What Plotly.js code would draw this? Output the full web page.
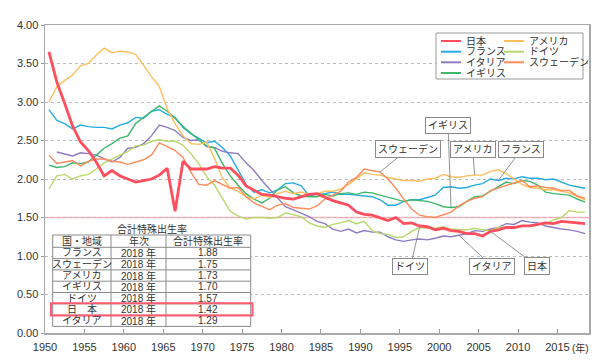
<!DOCTYPE html>
<html><head><meta charset="utf-8">
<script src="https://cdn.plot.ly/plotly-3.0.1.min.js"></script>
<style>html,body{margin:0;padding:0;background:#fff}#chart{width:600px;height:360px}</style>
</head><body><div id="chart"></div>
<script>
const startYear = 1950;
const japan = [3.65,3.26,2.98,2.69,2.48,2.37,2.22,2.04,2.11,2.04,2.00,1.96,1.98,2.00,2.05,2.14,1.58,2.23,2.13,2.13,2.13,2.16,2.14,2.14,2.05,1.91,1.85,1.80,1.79,1.77,1.75,1.74,1.77,1.80,1.81,1.76,1.72,1.69,1.66,1.57,1.54,1.53,1.50,1.46,1.50,1.42,1.43,1.39,1.38,1.34,1.36,1.33,1.32,1.29,1.29,1.26,1.32,1.34,1.37,1.37,1.39,1.39,1.41,1.43,1.42,1.45,1.44,1.43,1.42];
const france = [2.90,2.76,2.72,2.65,2.70,2.68,2.67,2.67,2.65,2.70,2.73,2.80,2.79,2.88,2.90,2.84,2.80,2.67,2.59,2.53,2.47,2.49,2.41,2.30,2.11,1.93,1.83,1.86,1.82,1.86,1.94,1.95,1.91,1.78,1.80,1.81,1.83,1.80,1.80,1.79,1.78,1.77,1.73,1.66,1.66,1.71,1.73,1.73,1.76,1.79,1.89,1.90,1.88,1.89,1.92,1.94,2.00,1.98,2.01,2.00,2.03,2.01,2.01,1.99,2.00,1.96,1.92,1.90,1.88];
const italy = [null,2.35,2.32,2.30,2.34,2.33,2.31,2.27,2.22,2.28,2.40,2.41,2.46,2.56,2.70,2.67,2.63,2.54,2.50,2.51,2.42,2.41,2.36,2.34,2.33,2.21,2.11,1.98,1.87,1.76,1.64,1.60,1.56,1.51,1.45,1.42,1.35,1.32,1.35,1.30,1.33,1.31,1.31,1.25,1.21,1.19,1.21,1.22,1.21,1.23,1.26,1.25,1.27,1.29,1.33,1.32,1.35,1.37,1.42,1.41,1.46,1.44,1.43,1.39,1.37,1.35,1.34,1.32,1.29];
const uk = [2.18,2.15,2.16,2.21,2.20,2.22,2.31,2.40,2.46,2.53,2.56,2.72,2.80,2.87,2.95,2.88,2.79,2.68,2.59,2.51,2.43,2.40,2.20,2.04,1.92,1.81,1.74,1.69,1.75,1.86,1.90,1.82,1.78,1.77,1.77,1.80,1.78,1.81,1.82,1.80,1.83,1.82,1.79,1.76,1.74,1.71,1.73,1.72,1.71,1.68,1.64,1.63,1.64,1.71,1.77,1.78,1.84,1.90,1.96,1.94,1.98,1.97,1.92,1.83,1.81,1.80,1.79,1.74,1.70];
const usa = [3.00,3.20,3.28,3.35,3.47,3.50,3.61,3.70,3.64,3.66,3.65,3.62,3.48,3.33,3.20,2.91,2.72,2.56,2.46,2.45,2.48,2.27,2.01,1.88,1.84,1.77,1.74,1.79,1.76,1.81,1.84,1.81,1.83,1.80,1.81,1.84,1.84,1.87,1.93,2.01,2.08,2.06,2.05,2.02,2.00,1.98,1.98,1.97,2.00,2.01,2.06,2.03,2.02,2.04,2.05,2.05,2.10,2.12,2.07,2.00,1.93,1.89,1.88,1.86,1.86,1.84,1.82,1.77,1.73];
const germany = [1.87,2.04,2.06,2.00,2.04,2.06,2.13,2.21,2.26,2.31,2.36,2.43,2.44,2.49,2.51,2.49,2.49,2.44,2.33,2.20,2.03,1.92,1.75,1.58,1.52,1.48,1.50,1.50,1.49,1.50,1.56,1.53,1.51,1.43,1.39,1.37,1.41,1.43,1.46,1.42,1.45,1.33,1.29,1.28,1.24,1.25,1.32,1.37,1.36,1.36,1.38,1.35,1.34,1.34,1.36,1.34,1.33,1.37,1.38,1.36,1.39,1.39,1.41,1.42,1.47,1.50,1.59,1.57,1.57];
const sweden = [2.31,2.20,2.22,2.24,2.17,2.23,2.26,2.26,2.23,2.22,2.19,2.22,2.25,2.31,2.47,2.42,2.37,2.28,2.09,1.93,1.92,1.98,1.93,1.88,1.89,1.77,1.69,1.65,1.60,1.66,1.68,1.63,1.62,1.61,1.65,1.74,1.79,1.84,1.96,2.02,2.13,2.11,2.09,2.00,1.88,1.74,1.61,1.53,1.51,1.50,1.54,1.57,1.65,1.71,1.75,1.77,1.85,1.88,1.91,1.94,1.98,1.90,1.91,1.89,1.88,1.85,1.85,1.78,1.75];

const seriesNames = ['日本','フランス','イタリア','イギリス','アメリカ','ドイツ','スウェーデン'];
const seriesValues = [japan, france, italy, uk, usa, germany, sweden];
const seriesColors = ['#FF4F5E','#29ABE2','#8E7CC3','#3DB86B','#FFBE5C','#B8D86B','#FF8A5B'];
const seriesWidths = [2.8,1.4,1.4,1.4,1.4,1.4,1.4];

const xTickLabels = ['1950','1955','1960','1965','1970','1975','1980','1985','1990','1995','2000','2005','2010','2015'];
const xUnitLabel = '(年)';
const referenceLevel = 1.5;

const tableTitle = '合計特殊出生率';
const tableHeader = ['国・地域','年次','合計特殊出生率'];
const tableCountries = ['フランス','スウェーデン','アメリカ','イギリス','ドイツ','日\u3000本','イタリア'];
const tableYears = ['2018 年','2018 年','2018 年','2018 年','2018 年','2018 年','2018 年'];
const tableValues = ['1.88','1.75','1.73','1.70','1.57','1.42','1.29'];

const calloutSeries = ['イギリス','スウェーデン','アメリカ','フランス','ドイツ','イタリア','日本'];
const calloutYears = [2001,1992,2004,2007,1997,2002,2006];

const years = japan.map((_, i) => startYear + i);

// layout geometry (pixels)
const L = 45, R = 11, T = 25, B = 27, W = 600 - L - R, H = 360 - T - B;
const px = x => (x - L) / W;
const py = y => (T + H - y) / H;

const FONT = 'Liberation Sans, Arial, Noto Sans CJK JP, sans-serif';
const TXT = '#333333';

const traces = [];
const order = [1,2,3,4,5,6,0];
order.forEach(i => {
  traces.push({
    type: 'scatter', mode: 'lines', x: years, y: seriesValues[i], name: seriesNames[i],
    line: {color: seriesColors[i], width: seriesWidths[i]}, showlegend: false, hoverinfo: 'skip',
    connectgaps: false
  });
});

const shapes = [];
const annotations = [];

// reference line at 1.5
shapes.push({type: 'line', xref: 'paper', x0: 0, x1: 1, yref: 'y', y0: referenceLevel, y1: referenceLevel,
  line: {color: '#FFB3BA', width: 1.5}, layer: 'between'});

// legend (manual, two columns)
shapes.push({type: 'rect', xref: 'paper', yref: 'paper', x0: px(436), x1: px(583), y0: py(79), y1: py(33),
  line: {color: '#9A9A9A', width: 1}, fillcolor: '#FFFFFF', layer: 'above'});
const legendRows = [41, 51.7, 62.3, 73];
const legendCols = [[0,1,2,3],[4,5,6]];
const legendX = [441, 504];
legendCols.forEach((col, c) => {
  col.forEach((si, r) => {
    const y = legendRows[r];
    shapes.push({type: 'line', xref: 'paper', yref: 'paper', x0: px(legendX[c]), x1: px(legendX[c] + 20),
      y0: py(y), y1: py(y), line: {color: seriesColors[si], width: 2}, layer: 'above'});
    annotations.push({xref: 'paper', yref: 'paper', x: px(legendX[c] + 23), y: py(y), xanchor: 'left', yanchor: 'middle',
      text: seriesNames[si], showarrow: false, font: {family: FONT, size: 10, color: TXT}});
  });
});

// table
const tRows = [235, 247.3, 258.6, 269.9, 281.2, 292.5, 303.8, 315.1, 326.4];
const tCols = [52.7, 111, 166, 250.7];
shapes.push({type: 'rect', xref: 'paper', yref: 'paper', x0: px(tCols[0]), x1: px(tCols[3]), y0: py(tRows[8]), y1: py(tRows[0]),
  line: {color: '#8A8A8A', width: 1}, fillcolor: '#FFFFFF', layer: 'above'});
tRows.slice(1, 8).forEach(y => shapes.push({type: 'line', xref: 'paper', yref: 'paper', x0: px(tCols[0]), x1: px(tCols[3]),
  y0: py(y), y1: py(y), line: {color: '#8A8A8A', width: 1}, layer: 'above'}));
tCols.slice(1, 3).forEach(x => shapes.push({type: 'line', xref: 'paper', yref: 'paper', x0: px(x), x1: px(x),
  y0: py(tRows[8]), y1: py(tRows[0]), line: {color: '#8A8A8A', width: 1}, layer: 'above'}));
annotations.push({xref: 'paper', yref: 'paper', x: px((tCols[0] + tCols[3]) / 2), y: py(228.5), xanchor: 'center', yanchor: 'middle',
  text: tableTitle, showarrow: false, font: {family: FONT, size: 10, color: TXT}});
const tableColumns = [tableCountries, tableYears, tableValues];
const colCenters = [0,1,2].map(c => (tCols[c] + tCols[c + 1]) / 2);
tableHeader.forEach((h, c) => annotations.push({xref: 'paper', yref: 'paper', x: px(colCenters[c]), y: py((tRows[0] + tRows[1]) / 2),
  xanchor: 'center', yanchor: 'middle', text: h, showarrow: false, font: {family: FONT, size: 10, color: TXT}}));
tableColumns.forEach((col, c) => col.forEach((v, r) => annotations.push({xref: 'paper', yref: 'paper', x: px(colCenters[c]),
  y: py((tRows[r + 1] + tRows[r + 2]) / 2), xanchor: 'center', yanchor: 'middle', text: v, showarrow: false,
  font: {family: FONT, size: 10, color: TXT}})));
// highlight row for Japan
const jRow = tableCountries.indexOf('日\u3000本');
shapes.push({type: 'rect', xref: 'paper', yref: 'paper', x0: px(51), x1: px(252.5), y0: py(tRows[jRow + 2] + 0.5), y1: py(tRows[jRow + 1] - 0.5),
  line: {color: '#FF5A6E', width: 2}, layer: 'above'});

// callouts
const calloutOffsets = [[-3,-82],[28,-23],[-2,-26],[23,-31],[-9,39],[33,31],[47,35]];
calloutSeries.forEach((name, k) => {
  const si = seriesNames.indexOf(name);
  const yr = calloutYears[k];
  annotations.push({x: yr, y: seriesValues[si][yr - startYear], xref: 'x', yref: 'y', text: name, showarrow: true,
    arrowhead: 0, arrowwidth: 0.8, arrowcolor: '#777777', ax: calloutOffsets[k][0], ay: calloutOffsets[k][1],
    bgcolor: '#FFFFFF', bordercolor: '#8A8A8A', borderwidth: 1, borderpad: 2,
    font: {family: FONT, size: 10, color: TXT}});
});

// year unit label
annotations.push({xref: 'paper', yref: 'paper', x: px(580), y: 0, yanchor: 'top', yshift: -7, xanchor: 'center',
  text: xUnitLabel, showarrow: false, font: {family: FONT, size: 10, color: TXT}});

const layout = {
  width: 600, height: 360,
  margin: {l: L, r: R, t: T, b: B},
  paper_bgcolor: '#FFFFFF', plot_bgcolor: '#FFFFFF',
  showlegend: false,
  xaxis: {
    range: [startYear - 0.5, years[years.length - 1] + 0.5],
    tickvals: xTickLabels.map(t => Number(t) - 0.5), ticktext: xTickLabels,
    ticks: 'inside', ticklen: 4, tickcolor: '#9A9A9A', showgrid: false, zeroline: false,
    showline: true, mirror: true, linecolor: '#AAAAAA', linewidth: 1.5,
    ticklabelstandoff: 3,
    tickfont: {family: FONT, size: 11, color: TXT}
  },
  yaxis: {
    range: [0, 4], dtick: 0.5, tick0: 0, tickformat: '.2f',
    ticks: 'outside', ticklen: 3, tickcolor: '#9A9A9A',
    showgrid: true, gridcolor: '#BBBBBB', griddash: 'dot', gridwidth: 1, zeroline: false,
    showline: true, mirror: true, linecolor: '#AAAAAA', linewidth: 1.5,
    tickfont: {family: FONT, size: 11, color: TXT}
  },
  shapes: shapes,
  annotations: annotations
};

Plotly.newPlot('chart', traces, layout, {staticPlot: true, displayModeBar: false});
</script>
</body></html>
